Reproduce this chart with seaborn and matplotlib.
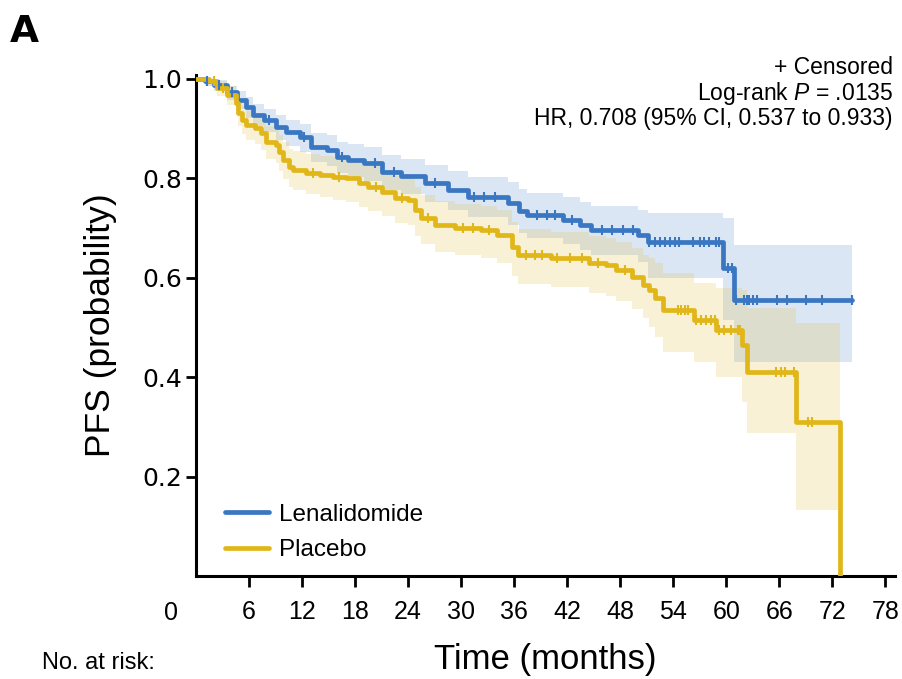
import numpy as np
import pandas as pd
import matplotlib
matplotlib.use("Agg")
import matplotlib.pyplot as plt
import seaborn as sns

# ---------------- data ----------------
len_t = [0, 1.0, 2.0, 3.5, 4.6, 5.7, 6.5, 7.7, 9.1, 10.2, 11.8, 13.0, 14.8, 15.9,
         17.2, 19.0, 21.0, 23.2, 25.9, 28.5, 30.8, 35.3, 36.5, 37.5, 41.5, 43.5,
         44.7, 50.0, 51.1, 59.6, 60.9, 74.2]
len_s = [1.0, 0.995, 0.988, 0.974, 0.958, 0.944, 0.928, 0.918, 0.904, 0.893, 0.883,
         0.863, 0.857, 0.843, 0.837, 0.830, 0.813, 0.805, 0.790, 0.777, 0.763, 0.750,
         0.735, 0.726, 0.716, 0.706, 0.696, 0.686, 0.672, 0.620, 0.555, 0.555]
len_lo = [1.0, 0.985, 0.975, 0.958, 0.940, 0.922, 0.905, 0.893, 0.877, 0.865, 0.853,
          0.832, 0.825, 0.810, 0.803, 0.795, 0.777, 0.768, 0.752, 0.737, 0.722, 0.706,
          0.690, 0.680, 0.668, 0.656, 0.645, 0.632, 0.600, 0.515, 0.430, 0.430]
len_hi = [1.0, 1.0, 0.997, 0.986, 0.975, 0.963, 0.950, 0.940, 0.928, 0.918, 0.910,
          0.892, 0.887, 0.874, 0.870, 0.864, 0.848, 0.840, 0.827, 0.815, 0.803, 0.792,
          0.778, 0.770, 0.762, 0.753, 0.745, 0.737, 0.730, 0.720, 0.665, 0.665]
len_cens = [1.3, 2.6, 4.1, 8.3, 12.2, 16.5, 20.2, 22.4, 27.1, 31.5, 32.6, 33.8,
            38.6, 39.7, 40.6, 42.5, 46.0, 47.1, 48.3, 49.4, 51.3, 51.9, 52.5, 53.1,
            53.6, 54.2, 54.7, 56.2, 57.0, 57.5, 58.1, 58.9, 59.2, 60.2, 60.7, 61.1,
            62.0, 62.4, 62.6, 63.0, 63.5, 65.8, 66.9, 69.0, 70.8, 74.2]

pla_t = [0, 1.5, 2.4, 3.5, 4.5, 4.8, 5.2, 5.7, 6.7, 7.3, 7.9, 9.0, 9.4, 9.9, 10.5,
         11.0, 12.5, 14.0, 15.5, 17.0, 18.4, 19.5, 21.0, 22.5, 24.0, 24.8, 25.5,
         27.0, 29.3, 32.2, 34.1, 35.8, 36.4, 40.2, 44.5, 46.4, 47.5, 49.3, 50.6,
         51.3, 51.9, 52.8, 56.4, 58.9, 61.8, 62.3, 67.9, 72.9]
pla_s = [1.0, 0.995, 0.982, 0.968, 0.952, 0.931, 0.917, 0.907, 0.901, 0.891, 0.873,
         0.867, 0.853, 0.837, 0.823, 0.817, 0.811, 0.807, 0.803, 0.800, 0.790, 0.783,
         0.773, 0.760, 0.757, 0.736, 0.720, 0.706, 0.700, 0.696, 0.686, 0.662, 0.646,
         0.640, 0.630, 0.625, 0.616, 0.602, 0.586, 0.575, 0.559, 0.535, 0.515, 0.495,
         0.465, 0.411, 0.310, 0.0]
pla_lo = [1.0, 0.985, 0.965, 0.948, 0.930, 0.905, 0.890, 0.878, 0.870, 0.858, 0.838,
          0.830, 0.815, 0.798, 0.783, 0.776, 0.768, 0.762, 0.757, 0.753, 0.742, 0.735,
          0.724, 0.710, 0.706, 0.684, 0.667, 0.652, 0.645, 0.640, 0.630, 0.604, 0.588,
          0.581, 0.570, 0.564, 0.553, 0.537, 0.520, 0.500, 0.480, 0.450, 0.430, 0.400,
          0.350, 0.288, 0.133, 0.133]
pla_hi = [1.0, 1.0, 0.995, 0.985, 0.972, 0.955, 0.945, 0.936, 0.930, 0.922, 0.906,
          0.900, 0.888, 0.873, 0.860, 0.855, 0.850, 0.846, 0.843, 0.840, 0.832, 0.826,
          0.817, 0.805, 0.802, 0.782, 0.767, 0.754, 0.749, 0.745, 0.736, 0.713, 0.699,
          0.693, 0.684, 0.680, 0.672, 0.660, 0.646, 0.640, 0.630, 0.610, 0.590, 0.580,
          0.575, 0.540, 0.510, 0.510]
pla_cens = [2.0, 3.1, 13.2, 16.2, 20.4, 23.3, 26.2, 30.2, 31.3, 33.2, 37.3, 38.4,
            39.2, 40.9, 42.3, 43.7, 45.5, 48.5, 54.5, 54.9, 55.3, 55.7, 56.6, 57.2,
            57.7, 58.3, 58.7, 59.2, 59.8, 60.5, 61.3, 61.6, 65.6, 66.2, 66.7, 67.7,
            69.2, 69.7]

arms = ["Lenalidomide", "Placebo"]
x_ticks = [6, 12, 18, 24, 30, 36, 42, 48, 54, 60, 66, 72, 78]
y_ticks = [0.2, 0.4, 0.6, 0.8, 1.0]
annot_lines = ["+ Censored", r"Log-rank $\mathit{P}$ = .0135",
               "HR, 0.708 (95% CI, 0.537 to 0.933)"]

colors = {"Lenalidomide": "#3a77c2", "Placebo": "#e1b619"}

# ---------------- style ----------------
sns.set_style("ticks")
plt.rcParams["font.family"] = ["Liberation Sans", "DejaVu Sans"]
plt.rcParams["mathtext.fontset"] = "custom"
plt.rcParams["mathtext.it"] = "Liberation Sans:italic"
plt.rcParams["mathtext.rm"] = "Liberation Sans"
for k in ["text.color", "axes.labelcolor", "xtick.color", "ytick.color"]:
    plt.rcParams[k] = "black"

fig = plt.figure(figsize=(9.02, 6.79), dpi=100)
ax = fig.add_axes([196 / 902, 1 - 576 / 679, (895 - 196) / 902, (576 - 75) / 679])

df = pd.concat([
    pd.DataFrame({"t": len_t, "s": len_s, "arm": "Lenalidomide"}),
    pd.DataFrame({"t": pla_t, "s": pla_s, "arm": "Placebo"}),
], ignore_index=True)

# confidence bands
ax.fill_between(len_t, len_lo, len_hi, step="post", color=colors["Lenalidomide"],
                alpha=0.18, linewidth=0, zorder=1)
ax.fill_between(pla_t, pla_lo, pla_hi, step="post", color=colors["Placebo"],
                alpha=0.18, linewidth=0, zorder=1)

sns.lineplot(data=df, x="t", y="s", hue="arm", hue_order=arms, palette=colors,
             estimator=None, sort=False, drawstyle="steps-post", linewidth=3.4,
             ax=ax, zorder=3)

# censor marks
for arm, tt, ss, cc in [("Lenalidomide", len_t, len_s, len_cens),
                        ("Placebo", pla_t, pla_s, pla_cens)]:
    idx = np.searchsorted(np.array(tt), np.array(cc), side="right") - 1
    yy = np.array(ss)[idx]
    ax.plot(cc, yy, linestyle="none", marker="|", markersize=7, mew=1.5,
            color=colors[arm], zorder=4)

ax.set_xlim(0, 79.1)
ax.set_ylim(0, 1.008)
ax.set_xticks(x_ticks)
ax.set_yticks(y_ticks)
ax.set_xticklabels([str(v) for v in x_ticks], fontsize=18)
ax.set_yticklabels([f"{v:.1f}" for v in y_ticks], fontsize=18, family="DejaVu Sans")
ax.tick_params(axis="x", length=8, width=2, pad=9)
ax.tick_params(axis="y", length=7, width=2, pad=3)
for sp in ["top", "right"]:
    ax.spines[sp].set_visible(False)
for sp in ["left", "bottom"]:
    ax.spines[sp].set_linewidth(2.2)
    ax.spines[sp].set_color("black")

ax.set_xlabel("Time (months)", fontsize=25, labelpad=14)
ax.set_ylabel("PFS (probability)", fontsize=25.5, labelpad=18)

# origin label
ax.annotate("0", xy=(0, 0), xycoords="axes fraction", xytext=(-18, -26.5),
            textcoords="offset points", ha="center", va="center", fontsize=18)

leg = ax.legend(loc="lower left", bbox_to_anchor=(0.01, -0.014), frameon=False,
                fontsize=17.5, handlelength=1.8, handletextpad=0.42,
                labelspacing=0.55)
for line in leg.get_lines():
    line.set_linewidth(3.4)

for i, txt in enumerate(annot_lines):
    fig.text(893 / 902, 1 - (68 + 25.5 * i) / 679, txt, ha="right", va="center",
             fontsize=16.5)

fig.text(10 / 902, 1 - 14 / 679, "A", ha="left", va="top", fontsize=27,
         fontweight="bold", family="DejaVu Sans")
fig.text(42 / 902, 1 - 663 / 679, "No. at risk:", ha="left", va="center", fontsize=17)

fig.savefig("out.png", dpi=100)
